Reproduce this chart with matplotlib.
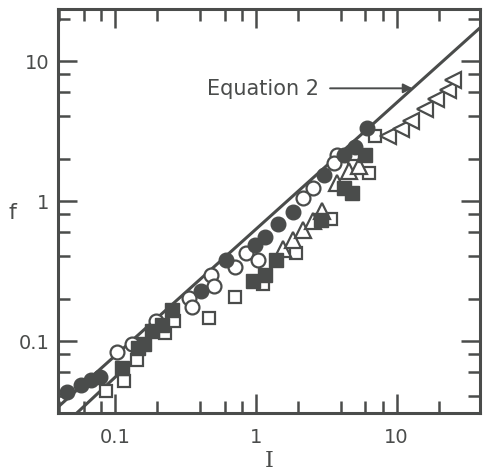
import matplotlib
matplotlib.use("Agg")
import matplotlib.pyplot as plt
from matplotlib.ticker import FixedLocator, NullFormatter

# ---- data ----
filled_circle_I = [0.046, 0.0577, 0.068, 0.078, 0.407, 0.616, 0.98, 1.16, 1.44, 1.83, 3.05, 4.22, 5.1, 6.15]
filled_circle_f = [0.0427, 0.0483, 0.0528, 0.0548, 0.228, 0.378, 0.48, 0.548, 0.678, 0.826, 1.52, 2.11, 2.43, 3.32]

open_circle_I = [0.103, 0.132, 0.194, 0.336, 0.355, 0.481, 0.508, 0.707, 0.857, 1.04, 2.15, 2.53, 3.79, 3.6]
open_circle_f = [0.083, 0.095, 0.138, 0.202, 0.175, 0.297, 0.247, 0.334, 0.42, 0.378, 1.04, 1.23, 2.11, 1.85]

filled_square_I = [0.112, 0.145, 0.16, 0.183, 0.215, 0.255, 0.957, 1.16, 1.4, 2.89, 4.22, 4.83, 5.99]
filled_square_f = [0.0636, 0.088, 0.095, 0.117, 0.13, 0.166, 0.267, 0.297, 0.378, 0.734, 1.23, 1.13, 2.11]

open_square_I = [0.087, 0.115, 0.143, 0.228, 0.262, 0.468, 0.707, 1.13, 1.93, 3.4, 4.96, 6.32, 7.04]
open_square_f = [0.0439, 0.0514, 0.0727, 0.114, 0.138, 0.145, 0.205, 0.254, 0.42, 0.743, 1.78, 1.59, 2.88]

up_tri_I = [1.56, 1.83, 2.15, 2.53, 2.97, 3.79, 4.58, 5.38]
up_tri_f = [0.455, 0.528, 0.62, 0.716, 0.84, 1.34, 1.64, 1.78]

left_tri_I = [8.74, 10.8, 12.7, 15.8, 19.1, 23.1, 25.0]
left_tri_f = [2.88, 3.23, 3.72, 4.53, 5.37, 6.18, 7.33]

eq2_I = [0.0394, 40.4]
eq2_f = [0.0336, 17.7]

low_line_I = [0.052, 0.12]
low_line_f = [0.0296, 0.065]

x_major = [0.1, 1, 10]
x_major_labels = ["0.1", "1", "10"]
y_major = [0.1, 1, 10]
y_major_labels = ["0.1", "1", "10"]
minor_mult = [2, 4, 6, 8]

annot_text = "Equation 2"
annot_I, annot_f = 13.0, 6.35
annot_text_I, annot_text_f = 0.45, 6.35

# ---- styling ----
ink = "#4a4c4b"
plt.rcParams['font.family'] = ['DejaVu Sans']

fig = plt.figure(figsize=(4.83, 4.77), dpi=100)
ax = fig.add_axes([0.1201, 0.1314, 0.8747, 0.8476])
ax.set_xscale('log')
ax.set_yscale('log')
ax.set_xlim(0.0394, 39.4)
ax.set_ylim(0.0303, 23.4)

ax.plot(eq2_I, eq2_f, color=ink, lw=2.2, zorder=2, solid_capstyle='butt')
ax.plot(low_line_I, low_line_f, color=ink, lw=2.2, zorder=2, solid_capstyle='butt')

ax.plot(open_square_I, open_square_f, 's', ms=9, mfc='white', mec=ink, mew=1.6, ls='none', zorder=3)
ax.plot(up_tri_I, up_tri_f, '^', ms=11, mfc='white', mec=ink, mew=1.6, ls='none', zorder=3)
ax.plot(left_tri_I, left_tri_f, '<', ms=12, mfc='white', mec=ink, mew=1.6, ls='none', zorder=3)
ax.plot(open_circle_I, open_circle_f, 'o', ms=10, mfc='white', mec=ink, mew=1.6, ls='none', zorder=4)
ax.plot(filled_square_I, filled_square_f, 's', ms=10.5, mfc=ink, mec=ink, mew=1, ls='none', zorder=4)
ax.plot(filled_circle_I, filled_circle_f, 'o', ms=10.5, mfc=ink, mec=ink, mew=1, ls='none', zorder=5)

ax.annotate(annot_text, xy=(annot_I, annot_f), xytext=(annot_text_I, annot_text_f),
            textcoords='data', fontsize=15, color=ink, va='center', ha='left',
            arrowprops=dict(arrowstyle='-|>', color=ink, lw=1.4, mutation_scale=14,
                            shrinkA=6, shrinkB=0))

for sp in ax.spines.values():
    sp.set_color(ink)
    sp.set_linewidth(2.2)

ax.xaxis.set_major_locator(FixedLocator(x_major))
ax.yaxis.set_major_locator(FixedLocator(y_major))
ax.set_xticklabels(x_major_labels)
ax.set_yticklabels(y_major_labels)
xminor = [m * d for d in [0.01, 0.1, 1, 10] for m in minor_mult]
yminor = [m * d for d in [0.01, 0.1, 1, 10] for m in minor_mult]
ax.xaxis.set_minor_locator(FixedLocator(xminor))
ax.yaxis.set_minor_locator(FixedLocator(yminor))
ax.xaxis.set_minor_formatter(NullFormatter())
ax.yaxis.set_minor_formatter(NullFormatter())
ax.tick_params(which='both', direction='in', top=True, right=True, color=ink,
               width=1.8, labelsize=14, labelcolor=ink)
ax.tick_params(which='major', length=14)
ax.tick_params(which='minor', length=8.5)
ax.tick_params(axis='x', which='major', pad=10)
ax.tick_params(axis='y', which='major', pad=6)

ax.set_xlabel("I", fontsize=16, color=ink, family='DejaVu Serif', labelpad=2)
fig.text(12 / 483, 1 - 213 / 477, "f", fontsize=16, color=ink, ha='center', va='center')

fig.savefig("out.png", dpi=100)
